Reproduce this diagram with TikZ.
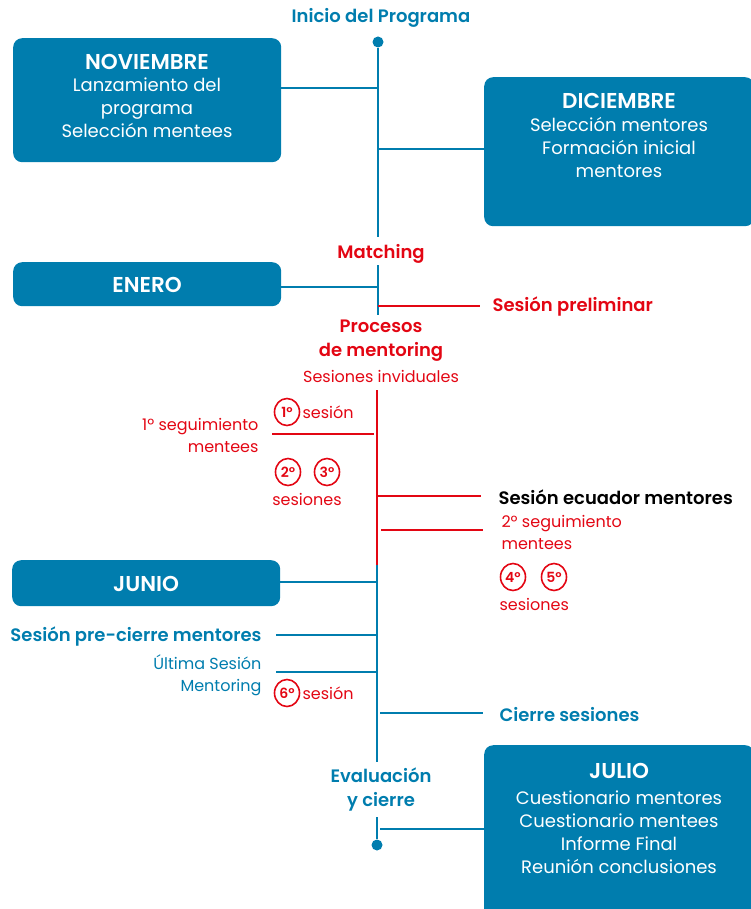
\documentclass[tikz,border=0pt]{standalone}
\usepackage{fontspec}
\setmainfont{Poppins}[BoldFont={Poppins SemiBold}]
\usetikzlibrary{shapes.geometric}
\definecolor{pblue}{HTML}{007DAE}
\definecolor{pred}{HTML}{E30613}
\begin{document}
\begin{tikzpicture}[x=1pt,y=-1pt,
  monthbox/.style={fill=pblue,draw=none,rounded corners=9pt,anchor=north west,inner sep=0pt},
  boxtext/.style={text=white,align=center,font=\fontsize{18}{23}\selectfont},
  titletxt/.style={text=white,font=\fontsize{21.5}{23}\selectfont\bfseries},
  bl/.style={draw=pblue,line width=1.2pt},
  rl/.style={draw=pred,line width=1.2pt},
  dotnode/.style={circle,fill=pblue,inner sep=0pt,minimum size=11pt},
  bluehead/.style={text=pblue,font=\fontsize{18}{24}\selectfont\bfseries,align=center},
  redhead/.style={text=pred,font=\fontsize{18}{24}\selectfont\bfseries,align=center},
  redtxt/.style={text=pred,font=\fontsize{16}{22}\selectfont},
  bluetxt/.style={text=pblue,font=\fontsize{16}{22}\selectfont},
  circ/.style={ellipse,draw=pred,line width=1.6pt,minimum width=25pt,minimum height=27pt,inner sep=0pt,text=pred,font=\fontsize{14}{14}\selectfont\bfseries}
]
\useasboundingbox (0,0) rectangle (750,909);

% ---- top
\node[bluehead] (inicio) at (381,18) {Inicio del Programa};
\node[dotnode] (d1) at (378,42) {};

% boxes
\node[monthbox,minimum width=268pt,minimum height=124pt] (nov) at (13,38) {};
\node[titletxt] (novh) at (147,62) {NOVIEMBRE};
\node[boxtext] (novt) at (147,108) {Lanzamiento del\\programa\\Selección mentees};

\node[monthbox,minimum width=270pt,minimum height=149pt] (dic) at (484,77) {};
\node[titletxt] (dich) at (619,101) {DICIEMBRE};
\node[boxtext] (dict) at (619,147) {Selección mentores\\Formación inicial\\mentores};

\node[monthbox,minimum width=268pt,minimum height=44pt] (ene) at (13,262) {};
\node[titletxt] (enet) at (147,285) {ENERO};

\node[monthbox,minimum width=268pt,minimum height=46pt] (jun) at (12,560) {};
\node[titletxt] (junt) at (146,584) {JUNIO};

\node[monthbox,minimum width=270pt,minimum height=175pt] (jul) at (484,745) {};
\node[titletxt] (julh) at (619,771) {JULIO};
\node[boxtext] (jult) at (619,832) {Cuestionario mentores\\Cuestionario mentees\\Informe Final\\Reunión conclusiones};

% spine coordinates
\coordinate (s1) at (378,237);
\coordinate (s2) at (378,265);
\coordinate (s3) at (378,315);
\coordinate (s4) at (377,390);
\coordinate (s5) at (377,565);
\coordinate (s6) at (377,762);
\coordinate (s7) at (377,817);
\node[dotnode] (d2) at (377,845) {};

\draw[bl] (d1) -- (s1);
\node[redhead] (match) at (381,254) {Matching};
\draw[bl] (s2) -- (s3);
\node[redhead] (proc) at (381,341) {Procesos\\de mentoring};
\node[redtxt] (sesind) at (381,376) {Sesiones inviduales};
\draw[rl] (s4) -- (s5);
\draw[bl] (s5) -- (s6);
\node[bluehead] (eval) at (381,789) {Evaluación\\y cierre};
\draw[bl] (s7) -- (d2);

% branches top
\draw[bl] (nov.east |- 0,88) -- (378,88);
\draw[bl] (378,149) -- (dic.west |- 0,149);
\coordinate (eneR) at (281,287);
\draw[bl] (eneR) -- (eneR -| s1);
\node[redhead,anchor=west] (prelim) at (489,307) {Sesión preliminar};
\draw[rl] (378,306) -- (480,306);

% red section
\node[circ] (c1) at (287,412) {1º};
\node[redtxt,anchor=west,inner sep=2pt] (ses1) at (c1.east) {sesión};
\node[redtxt,anchor=east,align=right] (seg1) at (262,435) {1º seguimiento\\mentees};
\draw[rl] (272,434) -- (374,434);
\node[circ] (c2) at (288,472) {2º};
\node[circ] (c3) at (327,472) {3º};
\node[redtxt] (ses23) at (307,499) {sesiones};

\node[anchor=west,font=\fontsize{18}{24}\selectfont\bfseries] (ecuador) at (495,497) {Sesión ecuador mentores};
\draw[rl] (377,496) -- (481,496);
\node[redtxt,anchor=west,align=left] (seg2) at (498,532) {2º seguimiento\\mentees};
\draw[rl] (381,530) -- (483,530);
\node[circ] (c4) at (513,577) {4º};
\node[circ] (c5) at (554,577) {5º};
\node[redtxt,anchor=west] (ses45) at (496,604) {sesiones};

% lower blue section
\coordinate (junR) at (280,582);
\draw[bl] (junR) -- (junR -| s5);
\node[bluehead,anchor=east] (precierre) at (265,636) {Sesión pre-cierre mentores};
\draw[bl] (276,635) -- (377,635);
\node[bluetxt,anchor=east,align=right] (ultima) at (265,675) {Última Sesión\\Mentoring};
\draw[bl] (276,672) -- (377,672);
\node[circ] (c6) at (287,693) {6º};
\node[redtxt,anchor=west,inner sep=2pt] (ses6) at (c6.east) {sesión};
\node[bluehead,anchor=west] (cierre) at (496,715) {Cierre sesiones};
\draw[bl] (380,713) -- (483,713);
\draw[bl] (380,829) -- (jul.west |- 0,829);
\end{tikzpicture}
\end{document}
